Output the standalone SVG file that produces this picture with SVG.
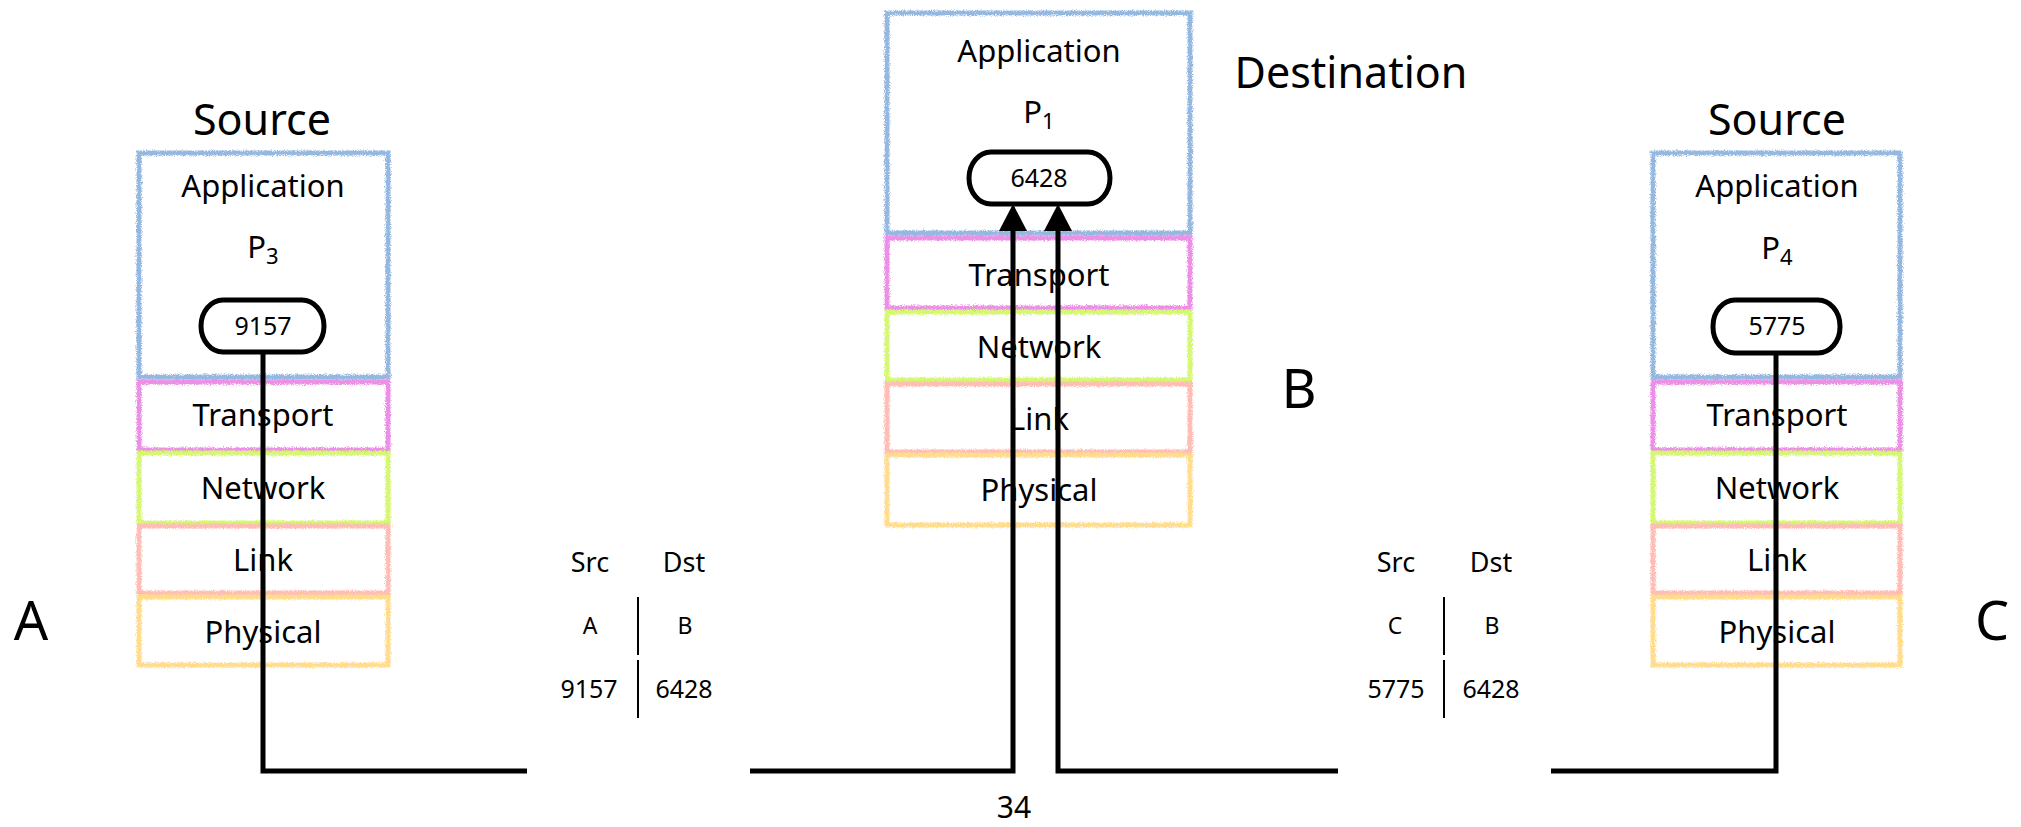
<svg xmlns="http://www.w3.org/2000/svg" width="2021" height="827" viewBox="0 0 2021 827">
  <defs>
    <!-- crayon-like roughness for the layer outlines -->
    <filter id="rough" x="-5%" y="-5%" width="110%" height="110%">
      <feTurbulence type="fractalNoise" baseFrequency="1.1" numOctaves="2" seed="3" result="noise"/>
      <feDisplacementMap in="SourceGraphic" in2="noise" scale="5" xChannelSelector="R" yChannelSelector="G"/>
    </filter>
    <marker id="arrow" viewBox="0 0 28 28" refX="0" refY="14" markerWidth="28" markerHeight="28" markerUnits="userSpaceOnUse" orient="auto">
      <path d="M0,0 L27,14 L0,28 Z" fill="#000"/>
    </marker>
    <style>
      text { font-family: "Noto Sans", "DejaVu Sans", sans-serif; fill: #000; text-anchor: middle; }
      .layer { fill: none; stroke-width: 5; filter: url(#rough); }
      .app { stroke: #94b8e0; }
      .transport { stroke: #ec8fe6; }
      .network { stroke: #d6f773; }
      .link { stroke: #ffbdb6; }
      .physical { stroke: #ffdc8e; }
      .lbl { font-size: 31px; }
      .title { font-size: 43px; }
      .host { font-size: 54px; }
      .port { fill: #fff; stroke: #000; stroke-width: 5; }
      .portnum { font-size: 25px; }
      .wire { fill: none; stroke: #000; stroke-width: 5; stroke-linejoin: miter; stroke-linecap: butt; }
      .hdr { font-size: 27px; }
      .cell { font-size: 23px; }
      .num { font-size: 25px; }
      .sep { stroke: #000; stroke-width: 2; }
    </style>
  </defs>

  <!-- host A: source stack -->
  <g id="hostA">
    <text class="title" x="262" y="135">Source</text>
    <rect class="layer app" x="139" y="153" width="249" height="224"/>
    <text class="lbl" x="263" y="197">Application</text>
    <text class="lbl" x="263" y="258">P<tspan font-size="22" dy="6">3</tspan></text>
    <rect class="layer transport" x="139" y="382" width="249" height="68"/>
    <text class="lbl" x="263" y="426">Transport</text>
    <rect class="layer network" x="139" y="453" width="249" height="70"/>
    <text class="lbl" x="263" y="499">Network</text>
    <rect class="layer link" x="139" y="526" width="249" height="67"/>
    <text class="lbl" x="263" y="571">Link</text>
    <rect class="layer physical" x="139" y="597" width="249" height="68"/>
    <text class="lbl" x="263" y="643">Physical</text>
    <text class="host" x="31" y="640">A</text>
  </g>

  <!-- host B: destination stack -->
  <g id="hostB">
    <text class="title" x="1351" y="88">Destination</text>
    <rect class="layer app" x="887" y="13" width="303" height="220"/>
    <text class="lbl" x="1039" y="62">Application</text>
    <text class="lbl" x="1039" y="123">P<tspan font-size="22" dy="6">1</tspan></text>
    <rect class="layer transport" x="887" y="238" width="303" height="70"/>
    <text class="lbl" x="1039" y="286">Transport</text>
    <rect class="layer network" x="887" y="312" width="303" height="68"/>
    <text class="lbl" x="1039" y="358">Network</text>
    <rect class="layer link" x="887" y="384" width="303" height="68"/>
    <text class="lbl" x="1039" y="430">Link</text>
    <rect class="layer physical" x="887" y="455" width="303" height="70"/>
    <text class="lbl" x="1039" y="501">Physical</text>
    <text class="host" x="1299" y="408">B</text>
  </g>

  <!-- host C: source stack -->
  <g id="hostC">
    <text class="title" x="1777" y="135">Source</text>
    <rect class="layer app" x="1653" y="153" width="247" height="224"/>
    <text class="lbl" x="1777" y="197">Application</text>
    <text class="lbl" x="1777" y="259">P<tspan font-size="22" dy="6">4</tspan></text>
    <rect class="layer transport" x="1653" y="382" width="247" height="68"/>
    <text class="lbl" x="1777" y="426">Transport</text>
    <rect class="layer network" x="1653" y="453" width="247" height="70"/>
    <text class="lbl" x="1777" y="499">Network</text>
    <rect class="layer link" x="1653" y="526" width="247" height="67"/>
    <text class="lbl" x="1777" y="571">Link</text>
    <rect class="layer physical" x="1653" y="597" width="247" height="68"/>
    <text class="lbl" x="1777" y="643">Physical</text>
    <text class="host" x="1992" y="640">C</text>
  </g>

  <!-- wires and delivery arrows -->
  <g id="connectors">
    <path class="wire" d="M263,352 V771 H527"/>
    <path class="wire" d="M1551,771 H1776 V353"/>
    <path class="wire" d="M750,771 H1013 V231" marker-end="url(#arrow)"/>
    <path class="wire" d="M1338,771 H1058 V231" marker-end="url(#arrow)"/>
  </g>

  <!-- sockets (drawn over wire ends) -->
  <g id="sockets">
    <rect class="port" x="201" y="300" width="123" height="52" rx="22" ry="26"/>
    <text class="portnum" x="263" y="335">9157</text>
    <rect class="port" x="969" y="152" width="141" height="52" rx="22" ry="26"/>
    <text class="portnum" x="1039" y="187">6428</text>
    <rect class="port" x="1713" y="300" width="127" height="53" rx="22" ry="26"/>
    <text class="portnum" x="1777" y="335">5775</text>
  </g>

  <!-- segment header A to B -->
  <g id="segmentAB">
    <text class="hdr" x="590" y="572">Src</text>
    <text class="hdr" x="684" y="572">Dst</text>
    <text class="cell" x="590" y="634">A</text>
    <text class="cell" x="685" y="634">B</text>
    <text class="num" x="589" y="698">9157</text>
    <text class="num" x="684" y="698">6428</text>
    <line class="sep" x1="638" y1="597" x2="638" y2="655"/>
    <line class="sep" x1="638" y1="660" x2="638" y2="718"/>
  </g>

  <!-- segment header C to B -->
  <g id="segmentCB">
    <text class="hdr" x="1396" y="572">Src</text>
    <text class="hdr" x="1491" y="572">Dst</text>
    <text class="cell" x="1395" y="634">C</text>
    <text class="cell" x="1492" y="634">B</text>
    <text class="num" x="1396" y="698">5775</text>
    <text class="num" x="1491" y="698">6428</text>
    <line class="sep" x1="1444" y1="597" x2="1444" y2="655"/>
    <line class="sep" x1="1444" y1="660" x2="1444" y2="718"/>
  </g>

  <text id="label34" x="1014" y="818" style="font-size:30px">34</text>
</svg>
